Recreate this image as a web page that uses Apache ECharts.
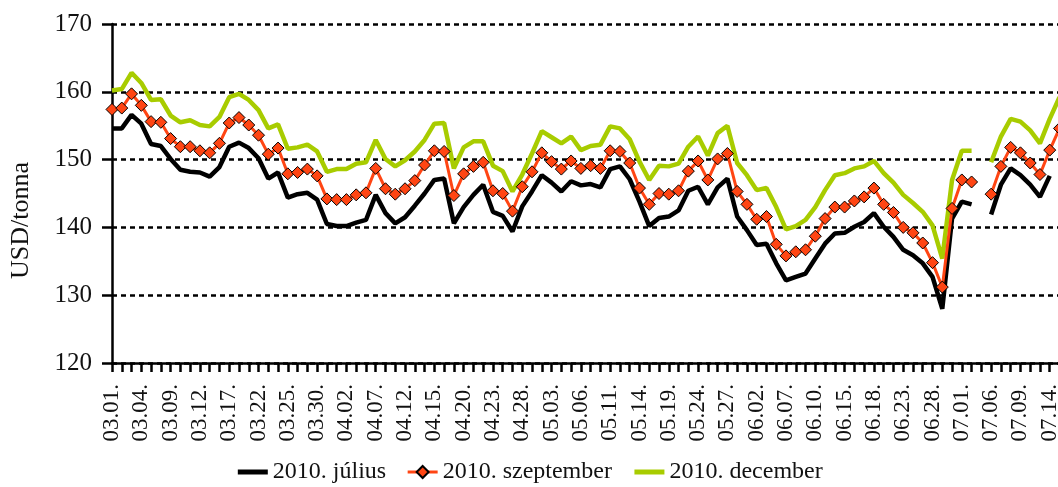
<!DOCTYPE html>
<html>
<head>
<meta charset="utf-8">
<script src="https://cdn.jsdelivr.net/npm/echarts@6/dist/echarts.min.js"></script>
<style>
html,body{margin:0;padding:0;background:#fff;}
#c{width:1058px;height:487px;}
</style>
</head>
<body>
<div id="c"></div>
<script>
const categories = ["03.01.","03.02.","03.03.","03.04.","03.05.","03.08.","03.09.","03.10.","03.11.","03.12.",
"03.15.","03.16.","03.17.","03.18.","03.19.","03.22.","03.23.","03.24.","03.25.","03.26.",
"03.29.","03.30.","03.31.","04.01.","04.02.","04.05.","04.06.","04.07.","04.08.","04.09.",
"04.12.","04.13.","04.14.","04.15.","04.16.","04.19.","04.20.","04.21.","04.22.","04.23.",
"04.26.","04.27.","04.28.","04.29.","04.30.","05.03.","05.04.","05.05.","05.06.","05.07.",
"05.10.","05.11.","05.12.","05.13.","05.14.","05.17.","05.18.","05.19.","05.20.","05.21.",
"05.24.","05.25.","05.26.","05.27.","05.28.","06.01.","06.02.","06.03.","06.04.","06.07.",
"06.08.","06.09.","06.10.","06.11.","06.14.","06.15.","06.16.","06.17.","06.18.","06.21.",
"06.22.","06.23.","06.24.","06.25.","06.28.","06.29.","06.30.","07.01.","07.02.","07.05.",
"07.06.","07.07.","07.08.","07.09.","07.12.","07.13.","07.14.","07.15."];

const julius = [154.6,154.6,156.6,155.3,152.3,152.0,150.1,148.5,148.2,148.1,
147.5,148.9,151.9,152.5,151.7,150.2,147.2,148.1,144.4,144.9,
145.1,144.1,140.5,140.2,140.2,140.7,141.1,144.8,142.1,140.6,
141.5,143.2,145.0,147.0,147.2,140.6,143.0,144.8,146.3,142.3,
141.7,139.4,143.1,145.3,147.7,146.6,145.3,146.8,146.2,146.4,
145.9,148.6,149.0,147.1,143.8,140.2,141.4,141.6,142.5,145.4,
146.0,143.4,145.9,147.2,141.6,139.6,137.4,137.6,134.7,132.2,
132.7,133.2,135.4,137.6,139.1,139.2,140.1,140.8,142.1,140.1,
138.6,136.7,135.9,134.7,132.7,128.0,141.3,143.8,143.4,null,
141.9,146.3,148.7,147.7,146.3,144.5,147.6,null];

const szeptember = [157.4,157.6,159.7,158.0,155.6,155.5,153.1,151.9,151.9,151.3,
151.0,152.4,155.4,156.2,155.1,153.6,150.8,151.7,147.9,148.1,
148.6,147.6,144.2,144.1,144.1,144.8,145.1,148.7,145.7,144.9,
145.7,146.9,149.2,151.3,151.2,144.7,147.9,149.0,149.6,145.4,
145.0,142.4,146.0,148.2,151.0,149.7,148.6,149.8,148.7,149.1,
148.7,151.3,151.2,149.5,145.8,143.4,145.0,144.9,145.4,148.3,
149.8,147.0,150.1,150.9,145.3,143.4,141.2,141.6,137.5,135.8,
136.4,136.7,138.7,141.3,143.0,143.0,143.9,144.5,145.8,143.4,
142.2,140.0,139.2,137.7,134.8,131.2,142.8,147.0,146.7,null,
144.9,149.0,151.8,151.0,149.5,147.8,151.4,154.6];

const december = [160.2,160.4,162.8,161.3,158.8,158.9,156.5,155.5,155.8,155.1,
154.9,156.3,159.2,159.7,158.8,157.3,154.6,155.2,151.6,151.8,
152.2,151.2,148.2,148.6,148.6,149.4,149.6,152.9,150.1,149.0,
149.9,151.2,152.9,155.3,155.4,148.7,151.8,152.7,152.7,149.1,
148.3,145.3,147.8,150.9,154.2,153.3,152.4,153.4,151.4,152.0,
152.2,154.9,154.6,153.0,149.7,147.0,149.1,149.0,149.4,151.9,
153.4,150.6,153.9,155.0,149.5,147.7,145.5,145.8,143.0,139.7,
140.2,141.1,143.0,145.5,147.7,148.0,148.7,149.0,149.8,148.0,
146.6,144.8,143.6,142.3,140.3,135.4,147.0,151.3,151.3,null,
149.6,153.4,156.0,155.6,154.3,152.4,156.0,159.2];

const seriesNames = ["2010. július", "2010. szeptember", "2010. december"];
const yAxisName = "USD/tonna";

const FONT = "'Liberation Serif', 'DejaVu Serif', serif";
const BLACK = '#000000', ORANGE = '#ff4513', GREEN = '#a8cc00';
const chart = echarts.init(document.getElementById('c'), null, {renderer: 'canvas'});
chart.setOption({
  animation: false,
  backgroundColor: '#ffffff',
  grid: {left: 112, right: -1.5, top: 24, bottom: 124, containLabel: false, outerBoundsMode: 'none'},
  legend: {
    data: [
      {name: seriesNames[0], itemStyle: {color: 'rgba(0,0,0,0)', borderWidth: 0}, lineStyle: {color: BLACK, width: 5}},
      {name: seriesNames[1], lineStyle: {color: ORANGE, width: 3}},
      {name: seriesNames[2], itemStyle: {color: 'rgba(0,0,0,0)', borderWidth: 0}, lineStyle: {color: GREEN, width: 5}}
    ],
    left: 'center',
    top: 455,
    itemWidth: 30,
    itemHeight: 15,
    itemGap: 20,
    textStyle: {fontFamily: FONT, fontSize: 24, color: '#111'}
  },
  xAxis: {
    type: 'category',
    data: categories,
    boundaryGap: false,
    axisLine: {show: true, lineStyle: {color: '#000', width: 2.5}},
    axisTick: {show: true, interval: 0, length: 9, lineStyle: {color: '#000', width: 2.5}},
    axisLabel: {interval: 2, rotate: 90, margin: 21, fontFamily: FONT, fontSize: 23, color: '#111'},
    splitLine: {show: false}
  },
  yAxis: {
    type: 'value',
    min: 120, max: 170, interval: 10,
    name: yAxisName,
    nameLocation: 'middle',
    nameGap: 78,
    nameRotate: 90,
    nameTextStyle: {fontFamily: FONT, fontSize: 26, color: '#111', padding: [0, 54, 0, 0]},
    axisLine: {show: true, lineStyle: {color: '#000', width: 2.5}},
    axisTick: {show: true, length: 10, lineStyle: {color: '#000', width: 2.5}},
    axisLabel: {margin: 20, fontFamily: FONT, fontSize: 25, color: '#111'},
    splitLine: {show: true, lineStyle: {color: '#000', width: 2.5, type: [5, 4]}}
  },
  series: [
    {
      name: seriesNames[0], type: 'line', data: julius,
      symbol: 'none', z: 3,
      lineStyle: {color: BLACK, width: 4.5},
      itemStyle: {color: BLACK}
    },
    {
      name: seriesNames[1], type: 'line', data: szeptember,
      symbol: 'diamond', symbolSize: 12, showAllSymbol: true, z: 5,
      lineStyle: {color: ORANGE, width: 3},
      itemStyle: {color: ORANGE, borderColor: '#000', borderWidth: 1}
    },
    {
      name: seriesNames[2], type: 'line', data: december,
      symbol: 'none', z: 4,
      lineStyle: {color: GREEN, width: 4.5},
      itemStyle: {color: GREEN}
    }
  ]
});
</script>
</body>
</html>
